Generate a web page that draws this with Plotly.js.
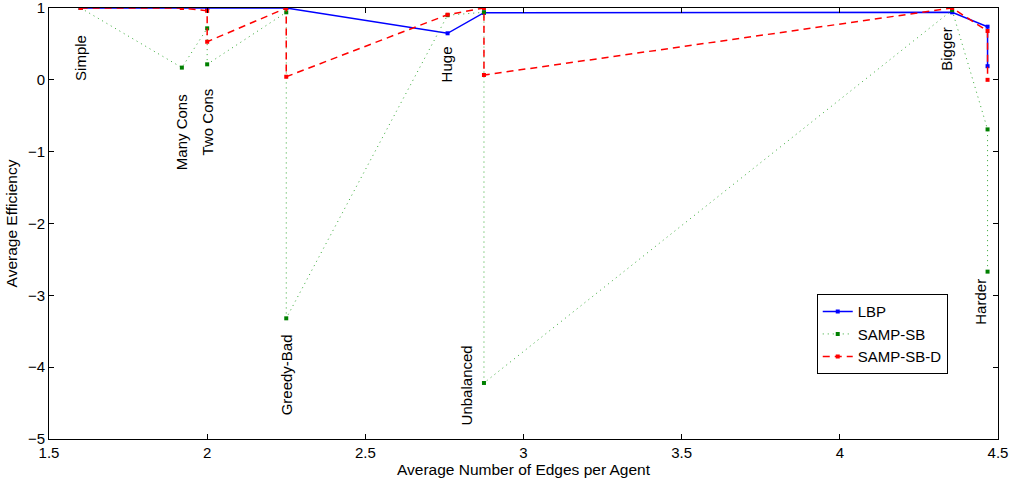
<!DOCTYPE html>
<html>
<head>
<meta charset="utf-8">
<script src="https://cdn.plot.ly/plotly-3.0.1.min.js"></script>
<style>html,body{margin:0;padding:0;background:#fff;}#chart{width:1015px;height:482px;}</style>
</head>
<body>
<div id="chart"></div>
<script>
// Average number of edges per agent for each test instance (sorted)
const edgesPerAgent = [1.6, 1.92, 2.0, 2.0, 2.25, 2.25, 2.76, 2.875, 2.875, 4.355, 4.467, 4.467];
const lbp      = [1, 1, 1, 1, 1, 1, 0.648, 0.935, 0.935, 0.94, 0.74, 0.19];
const sampSB   = [1, 0.17, 0.717, 0.216, 0.94, -3.32, 0.90, 0.94, -4.22, 0.97, -0.69, -2.67];
const sampSBD  = [1, 1, 0.96, 0.53, 1, 0.043, 0.907, 1, 0.067, 1, 0.68, 0.0];

const problemNames = ['Simple', 'Many Cons', 'Two Cons', 'Greedy-Bad', 'Huge', 'Unbalanced', 'Bigger', 'Harder'];
const problemEdges = [1.6, 1.92, 2.0, 2.25, 2.76, 2.875, 4.355, 4.467];

const seriesNames = ['LBP', 'SAMP-SB', 'SAMP-SB-D'];
const xTicks = [1.5, 2, 2.5, 3, 3.5, 4, 4.5];
const yTicks = [-5, -4, -3, -2, -1, 0, 1];

// label placement (layout only)
const labelDx = [0, -0.003, 0, 0, -0.003, -0.055, -0.016, -0.021];
const labelY  = [0.30, -0.73, -0.59, -4.11, 0.21, -4.26, 0.42, -3.09];

const font = 'Liberation Sans, Arial, Helvetica, sans-serif';

const traces = [
  {x: edgesPerAgent, y: lbp, name: seriesNames[0], mode: 'lines+markers',
   line: {color: '#0000ff', width: 1.5}, marker: {symbol: 'square', size: 4, color: '#0000ff'}},
  {x: edgesPerAgent, y: sampSB, name: seriesNames[1], mode: 'lines+markers',
   line: {color: '#33a833', width: 1, dash: '1px,4px'}, marker: {symbol: 'square', size: 4, color: '#008000'}},
  {x: edgesPerAgent, y: sampSBD, name: seriesNames[2], mode: 'lines+markers',
   line: {color: '#ff0000', width: 1.5, dash: '7px,5px'}, marker: {symbol: 'square', size: 4, color: '#ff0000'}}
];

const annotations = problemNames.map((n, i) => ({
  x: problemEdges[i] + labelDx[i], y: labelY[i], xref: 'x', yref: 'y',
  text: n, showarrow: false, textangle: -90,
  xanchor: 'center', yanchor: 'middle',
  font: {family: font, size: 15, color: '#000'}
}));

const axisCommon = {
  showgrid: false, zeroline: false, showline: true, linecolor: '#000', linewidth: 1,
  mirror: 'ticks', ticks: 'inside', ticklen: 5, tickcolor: '#000',
  ticklabeloverflow: 'allow',
  tickfont: {family: font, size: 15, color: '#000'}
};

const layout = {
  width: 1015, height: 482,
  margin: {l: 49, r: 17, t: 8, b: 43},
  paper_bgcolor: '#fff', plot_bgcolor: '#fff',
  showlegend: true,
  legend: {x: 0.809, y: 0.336, xanchor: 'left', yanchor: 'top',
    bgcolor: '#fff', bordercolor: '#000', borderwidth: 1,
    font: {family: font, size: 15, color: '#000'}, tracegroupgap: 0},
  xaxis: Object.assign({}, axisCommon, {
    range: [1.5, 4.5], tickvals: xTicks, ticktext: xTicks.map(String),
    title: {text: 'Average Number of Edges per Agent', font: {family: font, size: 15.5, color: '#000'}, standoff: 1}
  }),
  yaxis: Object.assign({}, axisCommon, {
    range: [-5, 1], tickvals: yTicks,
    title: {text: 'Average Efficiency', font: {family: font, size: 15.5, color: '#000'}, standoff: 6}
  }),
  annotations: annotations
};

Plotly.newPlot('chart', traces, layout, {displayModeBar: false, staticPlot: true});
</script>
</body>
</html>
